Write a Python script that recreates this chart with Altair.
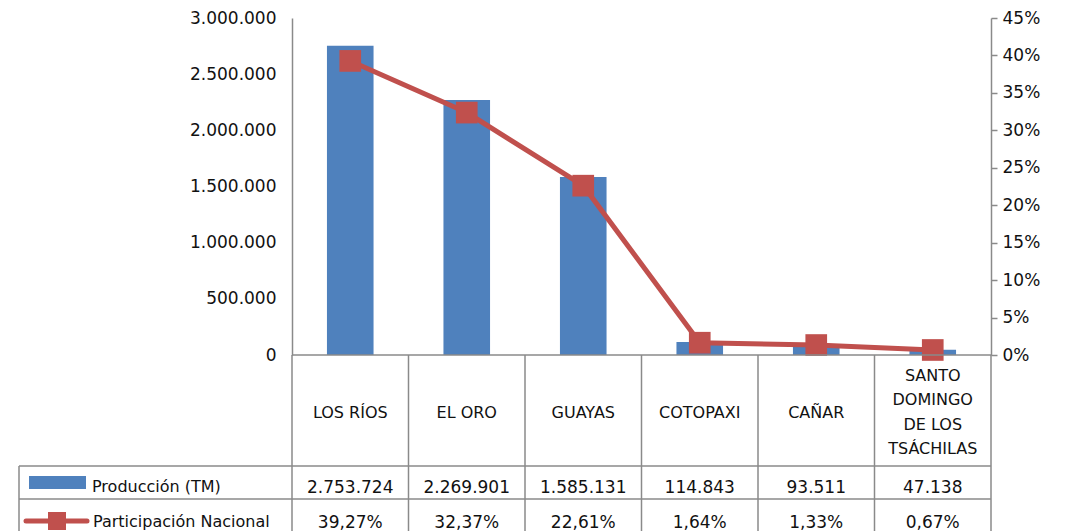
import altair as alt
import pandas as pd

# ---- data ----
provincias = ["LOS RÍOS", "EL ORO", "GUAYAS", "COTOPAXI", "CAÑAR",
              "SANTO DOMINGO DE LOS TSÁCHILAS"]
etiquetas = ["LOS RÍOS", "EL ORO", "GUAYAS", "COTOPAXI", "CAÑAR",
             "SANTO|DOMINGO|DE LOS|TSÁCHILAS"]
produccion = [2753724, 2269901, 1585131, 114843, 93511, 47138]
participacion = [39.27, 32.37, 22.61, 1.64, 1.33, 0.67]
ticks_izq = [0, 500000, 1000000, 1500000, 2000000, 2500000, 3000000]
ticks_der = [0, 5, 10, 15, 20, 25, 30, 35, 40, 45]
serie_barras = "Producción (TM)"
serie_linea = "Participación Nacional"

df = pd.DataFrame({"prov": provincias, "label": etiquetas,
                   "prod": produccion, "pct": participacion})
one = pd.DataFrame({"k": [0]})

# ---- style ----
W, H = 699, 337
FONT = "DejaVu Sans"
FS = 16
FSN = 17
BLUE = "#4F81BD"
RED = "#C0504D"
GRAY = "#8A8A8A"
TXT = "#111111"
LH = 24.6

# table geometry (relative to plot origin)
LEFT = -273
HDR_MID = 394.5
ROW1 = 448
ROW2 = 481
BOTTOM = 513

x = alt.X("prov:N", sort=provincias,
          scale=alt.Scale(paddingInner=0, paddingOuter=0), axis=None)

base = alt.Chart(df)

bars = base.mark_bar(color=BLUE, width=alt.RelativeBandSize(0.4)).encode(
    x=x,
    y=alt.Y("prod:Q", scale=alt.Scale(domain=[0, 3000000]),
            axis=alt.Axis(orient="left", values=ticks_izq, format=",.0f",
                          title=None, ticks=False, grid=False,
                          domainColor=GRAY, domainWidth=1.5,
                          labelFont=FONT, labelFontSize=FSN, labelColor=TXT,
                          labelPadding=16)),
)

yr = alt.Y("pct:Q", scale=alt.Scale(domain=[0, 45]),
           axis=alt.Axis(orient="right", values=ticks_der,
                         labelExpr="datum.value + '%'", title=None,
                         grid=False, tickSize=6, tickColor=GRAY,
                         tickWidth=1.5, domainColor=GRAY, domainWidth=1.5,
                         labelFont=FONT, labelFontSize=FSN, labelColor=TXT,
                         labelPadding=5))
line = base.mark_line(color=RED, strokeWidth=5).encode(x=x, y=yr)
pts = base.mark_point(shape="square", filled=True, size=470, color=RED,
                      opacity=1).encode(x=x, y=yr)
linea = alt.layer(line, pts)

# baseline
baseline = alt.Chart(one).mark_rule(color=GRAY, strokeWidth=1.5).encode(
    x=alt.value(0), x2=alt.value(W), y=alt.value(H))

# table header text (multi-line labels centred in the header row)
hdr = base.transform_calculate(
    ty=f"{HDR_MID} - (length(split(datum.label, '|')) - 1) * {LH} / 2"
).mark_text(font=FONT, fontSize=FS, lineBreak="|", lineHeight=LH,
            baseline="middle", color=TXT).encode(
    x=x, y=alt.Y("ty:Q", scale=None, axis=None), text="label:N")

prod_txt = base.transform_calculate(
    t="format(datum.prod, ',.0f')").mark_text(
    font=FONT, fontSize=FSN, baseline="middle", color=TXT).encode(
    x=x, y=alt.value(470), text="t:N")

pct_txt = base.transform_calculate(
    t="format(datum.pct, '.2f') + '%'").mark_text(
    font=FONT, fontSize=FSN, baseline="middle", color=TXT).encode(
    x=x, y=alt.value(505), text="t:N")

# table grid
vrules = base.mark_rule(color=GRAY, strokeWidth=1.5).encode(
    x=alt.X("prov:N", sort=provincias,
            scale=alt.Scale(paddingInner=0, paddingOuter=0), axis=None,
            bandPosition=0),
    y=alt.value(H), y2=alt.value(BOTTOM))
vright = alt.Chart(one).mark_rule(color=GRAY, strokeWidth=1.5).encode(
    x=alt.value(W), y=alt.value(H), y2=alt.value(BOTTOM))
vleft = alt.Chart(one).mark_rule(color=GRAY, strokeWidth=1.5).encode(
    x=alt.value(LEFT), y=alt.value(ROW1), y2=alt.value(BOTTOM))
h1 = alt.Chart(one).mark_rule(color=GRAY, strokeWidth=1.5).encode(
    x=alt.value(LEFT), x2=alt.value(W), y=alt.value(ROW1))
h2 = alt.Chart(one).mark_rule(color=GRAY, strokeWidth=1.5).encode(
    x=alt.value(LEFT), x2=alt.value(W), y=alt.value(ROW2))

# legend keys in table
key_bar = alt.Chart(one).mark_rect(color=BLUE).encode(
    x=alt.value(-263), x2=alt.value(-206), y=alt.value(458), y2=alt.value(471))
key_line = alt.Chart(one).mark_rule(color=RED, strokeWidth=5,
                                    strokeCap="round").encode(
    x=alt.value(-266), x2=alt.value(-205), y=alt.value(503))
key_sq = alt.Chart(one).mark_point(shape="square", filled=True, size=324,
                                   color=RED, opacity=1).encode(
    x=alt.value(-235), y=alt.value(503))
key_t1 = alt.Chart(one).mark_text(font=FONT, fontSize=FS, align="left",
                                  baseline="middle", color=TXT,
                                  text=serie_barras).encode(
    x=alt.value(-200), y=alt.value(469))
key_t2 = alt.Chart(one).mark_text(font=FONT, fontSize=FS, align="left",
                                  baseline="middle", color=TXT,
                                  text=serie_linea).encode(
    x=alt.value(-199), y=alt.value(504))

chart = alt.layer(
    bars, linea, baseline, hdr, prod_txt, pct_txt, vrules, vright, vleft,
    h1, h2, key_bar, key_line, key_sq, key_t1, key_t2
).resolve_scale(y="independent").properties(
    width=W, height=H,
    autosize=alt.AutoSizeParams(type="none"),
    padding={"left": 284, "top": 10, "right": 69, "bottom": 176},
).configure_view(stroke=None)

chart.save("out.html", embed_options={
    "renderer": "svg", "actions": False,
    "formatLocale": {"decimal": ",", "thousands": ".", "grouping": [3],
                     "currency": ["$", ""]},
})
